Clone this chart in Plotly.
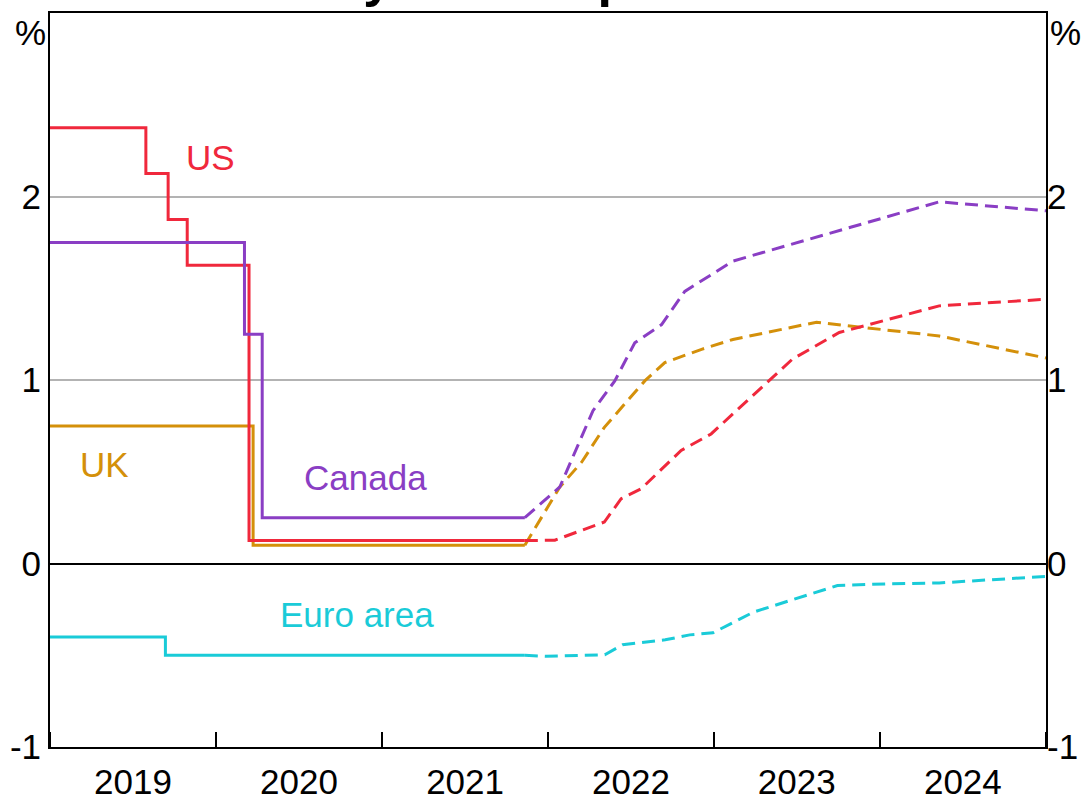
import plotly.graph_objects as go

# ---- Data ----
# Actual policy rates (step changes)
us_dates = ["2019-01-01", "2019-07-31", "2019-09-18", "2019-10-30", "2020-03-14", "2021-11-11"]
us_rates = [2.375, 2.125, 1.875, 1.625, 0.125, 0.125]
ca_dates = ["2019-01-01", "2020-03-04", "2020-04-12", "2021-11-11"]
ca_rates = [1.75, 1.25, 0.25, 0.25]
uk_dates = ["2019-01-01", "2020-03-23", "2021-11-11"]
uk_rates = [0.75, 0.10, 0.10]
ea_dates = ["2019-01-01", "2019-09-12", "2021-11-11"]
ea_rates = [-0.40, -0.50, -0.50]

# Market expectations
us_exp_dates = ["2021-11-11", "2022-01-16", "2022-05-05", "2022-06-11", "2022-07-25", "2022-10-21",
                "2022-12-26", "2023-06-23", "2023-10-04", "2024-05-11", "2025-01-01"]
us_exp = [0.125, 0.127, 0.226, 0.353, 0.407, 0.616, 0.706, 1.114, 1.259, 1.404, 1.44]
ca_exp_dates = ["2021-11-11", "2022-01-27", "2022-04-10", "2022-05-28", "2022-07-11", "2022-09-08",
                "2022-10-29", "2023-02-12", "2024-05-11", "2025-01-01"]
ca_exp = [0.25, 0.417, 0.833, 0.995, 1.203, 1.302, 1.483, 1.648, 1.971, 1.922]
uk_exp_dates = ["2021-11-11", "2022-01-27", "2022-03-16", "2022-05-05", "2022-08-02", "2022-09-15",
                "2022-12-05", "2023-02-12", "2023-08-15", "2024-05-11", "2025-01-01"]
uk_exp = [0.10, 0.417, 0.552, 0.742, 0.995, 1.095, 1.167, 1.221, 1.315, 1.24, 1.12]
ea_exp_dates = ["2021-11-11", "2021-12-27", "2022-05-06", "2022-06-14", "2022-09-16", "2022-11-09",
                "2022-12-30", "2023-03-29", "2023-09-30", "2024-01-16", "2024-05-11", "2025-01-01"]
ea_exp = [-0.50, -0.506, -0.497, -0.443, -0.416, -0.389, -0.378, -0.265, -0.12, -0.111, -0.106, -0.07]

y_ticks = [-1, 0, 1, 2]
y_tick_text = ["-1", "0", "1", "2"]

RED = "#F0283C"
PURPLE = "#8A3EC4"
ORANGE = "#D4900A"
CYAN = "#1ACBD8"
FONT = "Liberation Sans, Arial, sans-serif"
DASH = "13px,7px"
LW = 3

fig = go.Figure()

def add(x, y, color, dash=None, shape="linear"):
    fig.add_trace(go.Scatter(x=x, y=y, mode="lines",
                             line=dict(color=color, width=LW, dash=dash, shape=shape),
                             showlegend=False, hoverinfo="skip"))

add(ea_dates, ea_rates, CYAN, shape="hv")
add(ea_exp_dates, ea_exp, CYAN, dash=DASH)
add(uk_dates, uk_rates, ORANGE, shape="hv")
add(uk_exp_dates, uk_exp, ORANGE, dash=DASH)
add(us_dates, us_rates, RED, shape="hv")
add(us_exp_dates, us_exp, RED, dash=DASH)
add(ca_dates, ca_rates, PURPLE, shape="hv")
add(ca_exp_dates, ca_exp, PURPLE, dash=DASH)

# dummy trace for right axis
fig.add_trace(go.Scatter(x=[None], y=[None], yaxis="y2", showlegend=False, hoverinfo="skip"))

labels = [
    ("US", "2019-12-20", 2.21, RED),
    ("UK", "2019-05-01", 0.54, ORANGE),
    ("Canada", "2020-11-26", 0.47, PURPLE),
    ("Euro area", "2020-11-06", -0.28, CYAN),
]
for text, x, y, c in labels:
    fig.add_annotation(x=x, y=y, text=text, showarrow=False,
                       font=dict(family=FONT, size=35, color=c),
                       xanchor="center", yanchor="middle")

fig.add_annotation(x=-0.02, y=0.974, xref="paper", yref="paper", text="%",
                   showarrow=False, font=dict(family=FONT, size=35, color="black"),
                   xanchor="center", yanchor="middle")
fig.add_annotation(x=1.037, y=0.974, xref="paper", yref="paper", text="%",
                   showarrow=False, font=dict(family=FONT, size=35, color="black"),
                   xanchor="right", yanchor="middle")

# Title (mostly cut off at top of image, as in the reference)
fig.add_annotation(x=0.5, y=1.005, xref="paper", yref="paper",
                   text="<b>Policy Rate Expectations</b>", showarrow=False,
                   font=dict(family=FONT, size=52, color="black"),
                   xanchor="center", yanchor="bottom")

fig.update_layout(
    width=1084, height=801,
    margin=dict(l=50, r=38, t=13, b=54, autoexpand=False),
    paper_bgcolor="white", plot_bgcolor="white",
    font=dict(family=FONT, size=35, color="black"),
    xaxis=dict(type="date", range=["2019-01-01", "2025-01-01"],
               dtick="M12", tick0="2019-01-01", tickformat="%Y",
               ticklabelmode="period", ticks="inside", ticklen=15,
               tickwidth=1.5, tickcolor="black", ticklabelstandoff=3,
               showgrid=False, showline=True, linecolor="black",
               linewidth=2, mirror=True, zeroline=False, automargin=False,
               tickfont=dict(family=FONT, size=35)),
    yaxis=dict(range=[-1, 3], tickvals=y_ticks, ticktext=y_tick_text,
               showgrid=True, gridcolor="#B3B3B3", gridwidth=1.5,
               zeroline=True, zerolinecolor="black", zerolinewidth=2,
               showline=True, linecolor="black", linewidth=2, mirror=True,
               ticks="", automargin=False, tickfont=dict(family=FONT, size=35)),
    yaxis2=dict(range=[-1, 3], tickvals=y_ticks, ticktext=y_tick_text,
                overlaying="y", side="right", showgrid=False, zeroline=False,
                showline=False, ticks="", automargin=False,
                tickfont=dict(family=FONT, size=35)),
)

fig.write_html("out.html", config={"displayModeBar": False},
               post_script="document.body.style.margin='0px';document.body.style.overflow='hidden';")
